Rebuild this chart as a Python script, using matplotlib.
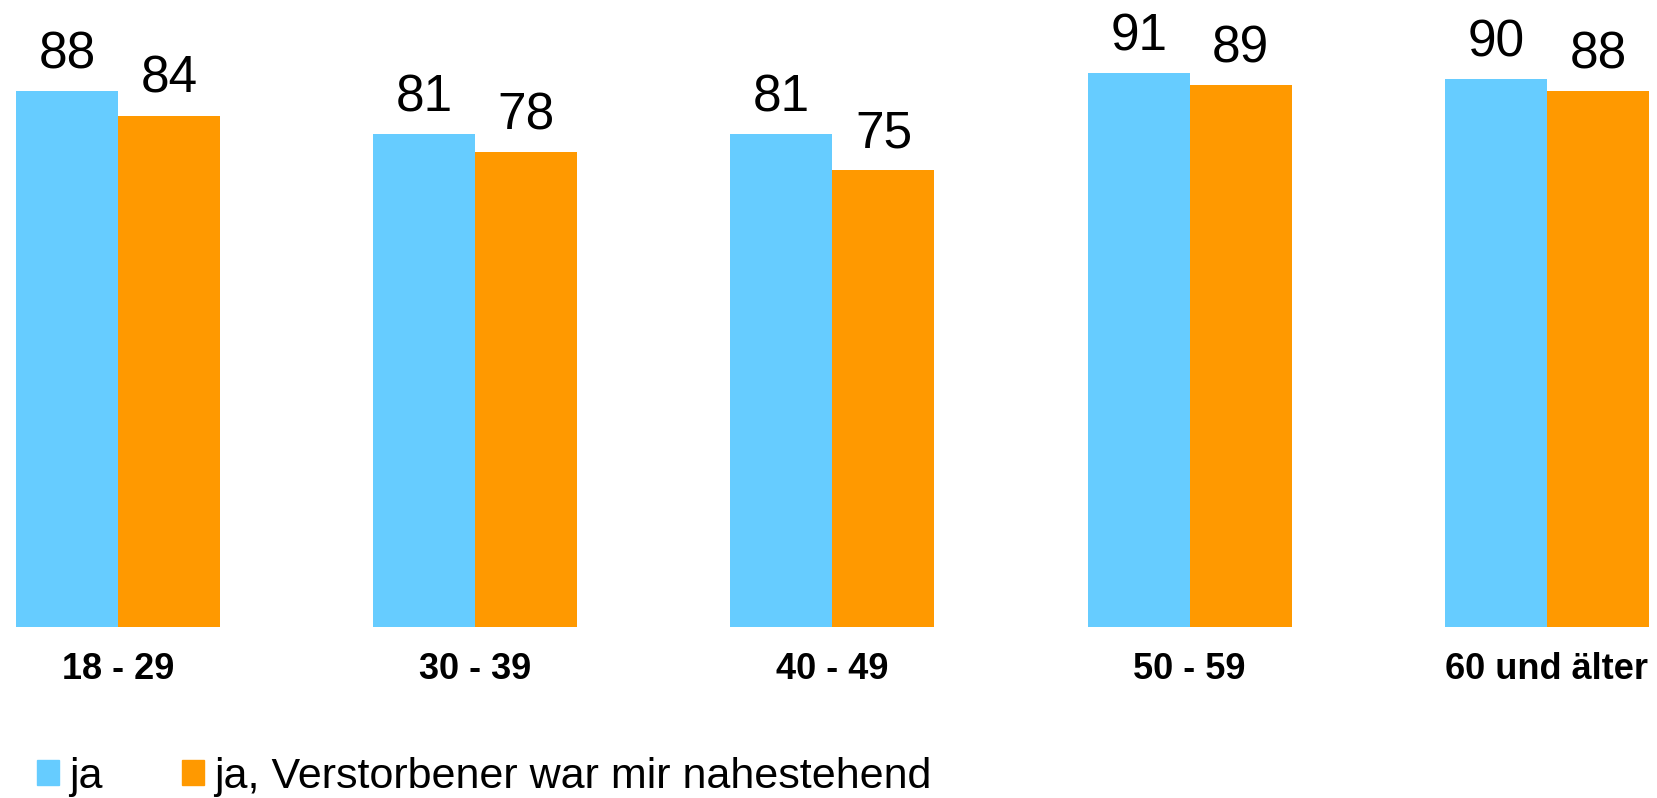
import numpy as np
from matplotlib import pyplot as plt
from matplotlib.patches import Patch

categories = ['18 - 29', '30 - 39', '40 - 49', '50 - 59', '60 und älter']
ja = [88, 81, 81, 91, 90]
ja_nahe = [84, 78, 75, 89, 88]
series_names = ['ja', 'ja, Verstorbener war mir nahestehend']
colors = ['#66CCFF', '#FF9900']


def main():
    plt.rcParams['font.family'] = ['Liberation Sans', 'DejaVu Sans']

    fig = plt.figure(figsize=(16.57, 7.98), dpi=100)
    ax = fig.add_axes([0, 1 - 627 / 798, 1, 627 / 798])

    x = np.arange(len(categories))
    width = 0.2855

    bars1 = ax.bar(x - width / 2, ja, width, color=colors[0])
    bars2 = ax.bar(x + width / 2, ja_nahe, width, color=colors[1])

    for bars, vals in [(bars1, ja), (bars2, ja_nahe)]:
        for b, v in zip(bars, vals):
            ax.annotate(str(v), (b.get_x() + b.get_width() / 2, v),
                        xytext=(0, 16.5), textcoords='offset points',
                        ha='center', va='baseline', fontsize=37)

    ax.set_xlim(-0.3303, 4.308)
    ax.set_ylim(0, 103)
    ax.set_xticks(x)
    ax.set_xticklabels(categories, fontsize=26, fontweight='bold')
    ax.tick_params(axis='x', length=0, pad=18)
    ax.set_yticks([])
    for s in ax.spines.values():
        s.set_visible(False)

    handles = [Patch(color=c, label=n) for c, n in zip(colors, series_names)]
    fig.legend(handles=handles, loc='lower left', bbox_to_anchor=(36 / 1657, 0.0),
               ncol=2, frameon=False, fontsize=31, borderpad=0.03,
               handlelength=0.51, handleheight=0.51, handletextpad=0.23,
               columnspacing=1.85, borderaxespad=0)

    fig.savefig('out.png', dpi=100)


if __name__ == '__main__':
    main()
